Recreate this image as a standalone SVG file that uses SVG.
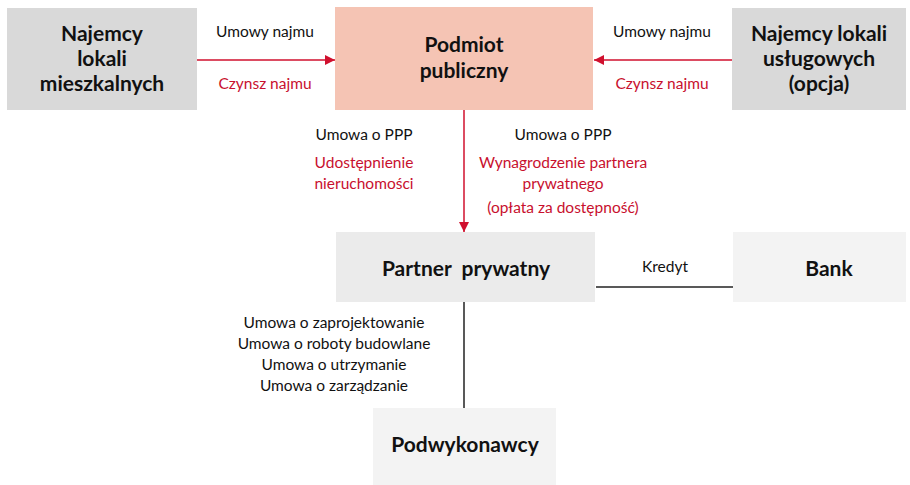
<svg xmlns="http://www.w3.org/2000/svg" width="910" height="485" viewBox="0 0 910 485">
<style>
.title{font-family:Lato,"Liberation Sans",sans-serif;font-weight:bold;font-size:21px;fill:#111;text-anchor:middle}
.lbl{font-family:Lato,"Liberation Sans",sans-serif;font-size:15.5px;fill:#111;text-anchor:middle}
.red{fill:#c8102e}
.ar{stroke:#d0102e;stroke-width:1.5;fill:none}
.ln{stroke:#222;stroke-width:1.5;fill:none}
</style>
<defs>
<marker id="ah" viewBox="0 0 10 10" refX="10" refY="5" markerWidth="10" markerHeight="10" markerUnits="userSpaceOnUse" orient="auto">
<path d="M0,0 L10,5 L0,10 z" fill="#d0102e"/>
</marker>
</defs>
<rect width="910" height="485" fill="#fff"/>
<g id="najemcy-mieszkalnych">
<rect x="7" y="8" width="190" height="102" fill="#d9d9d9"/>
<text class="title" x="102" y="41">Najemcy</text>
<text class="title" x="102" y="66">lokali</text>
<text class="title" x="102" y="91">mieszkalnych</text>
</g>
<g id="podmiot-publiczny">
<rect x="335" y="7" width="258" height="103" fill="#f5c4b4"/>
<text class="title" x="464" y="52">Podmiot</text>
<text class="title" x="464" y="78">publiczny</text>
</g>
<g id="najemcy-uslugowych">
<rect x="732" y="8" width="174" height="102" fill="#d9d9d9"/>
<text class="title" x="819" y="41">Najemcy lokali</text>
<text class="title" x="819" y="66">usługowych</text>
<text class="title" x="819" y="91">(opcja)</text>
</g>
<g id="partner-prywatny">
<rect x="336" y="232" width="259" height="70" fill="#ebebeb"/>
<text class="title" x="466" y="276" xml:space="preserve">Partner  prywatny</text>
</g>
<g id="bank">
<rect x="733" y="232" width="173" height="70" fill="#f3f3f3"/>
<text class="title" x="829" y="276">Bank</text>
</g>
<g id="podwykonawcy">
<rect x="373" y="408" width="183" height="77" fill="#f3f3f3"/>
<text class="title" x="465" y="452">Podwykonawcy</text>
</g>
<g id="connectors">
<line class="ar" x1="197" y1="60" x2="335" y2="60" marker-end="url(#ah)"/>
<line class="ar" x1="732" y1="60" x2="594" y2="60" marker-end="url(#ah)"/>
<line class="ar" x1="464" y1="110" x2="464" y2="232" marker-end="url(#ah)"/>
<line class="ln" x1="596" y1="287" x2="733" y2="287"/>
<line class="ln" x1="464" y1="302" x2="464" y2="408"/>
</g>
<g id="labels">
<text class="lbl" x="265" y="37">Umowy najmu</text>
<text class="lbl red" x="265" y="89">Czynsz najmu</text>
<text class="lbl" x="662" y="37">Umowy najmu</text>
<text class="lbl red" x="662" y="89">Czynsz najmu</text>
<text class="lbl" x="364" y="140">Umowa o PPP</text>
<text class="lbl red" x="364" y="168">Udostępnienie</text>
<text class="lbl red" x="364" y="189">nieruchomości</text>
<text class="lbl" x="563" y="140">Umowa o PPP</text>
<text class="lbl red" x="563" y="168">Wynagrodzenie partnera</text>
<text class="lbl red" x="563" y="189">prywatnego</text>
<text class="lbl red" x="563" y="213">(opłata za dostępność)</text>
<text class="lbl" x="665" y="272">Kredyt</text>
<text class="lbl" x="334" y="328">Umowa o zaprojektowanie</text>
<text class="lbl" x="334" y="349">Umowa o roboty budowlane</text>
<text class="lbl" x="334" y="370">Umowa o utrzymanie</text>
<text class="lbl" x="334" y="391">Umowa o zarządzanie</text>
</g>
</svg>
